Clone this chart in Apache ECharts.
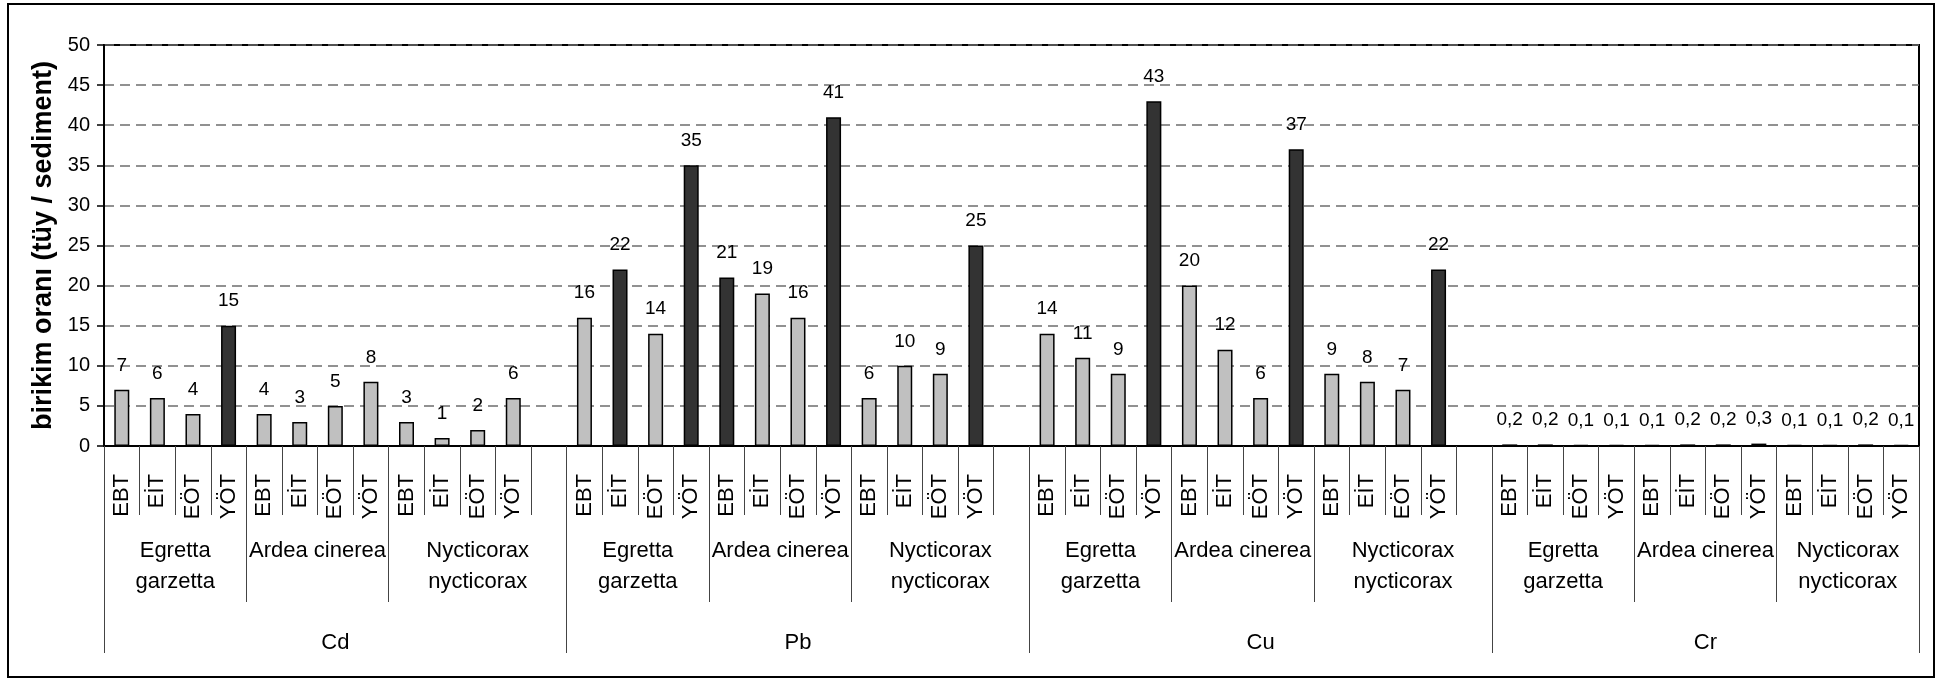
<!DOCTYPE html>
<html>
<head>
<meta charset="utf-8">
<script src="https://cdn.jsdelivr.net/npm/echarts@6/dist/echarts.min.js"></script>
<style>
	html, body { margin: 0; padding: 0; background: #fff; }
	#main { width: 1946px; height: 680px; position: absolute; left: 0; top: 0; }
	#frame { position: absolute; left: 7px; top: 3px; width: 1924px; height: 671px; border: 2px solid #000; pointer-events: none; }
</style>
</head>
<body>
<div id="main"></div>
<div id="frame"></div>
<script>
	// kategoriler
	var metals = ['Cd', 'Pb', 'Cu', 'Cr'];
	var species = ['Egretta\ngarzetta', 'Ardea cinerea', 'Nycticorax\nnycticorax'];
	var tissues = ['EBT', 'EİT', 'EÖT', 'YÖT'];

	// birikim oranı değerleri (her metal: Egretta x4, Ardea x4, Nycticorax x4)
	var cdValues = [7, 6, 4, 15, 4, 3, 5, 8, 3, 1, 2, 6];
	var pbValues = [16, 22, 14, 35, 21, 19, 16, 41, 6, 10, 9, 25];
	var cuValues = [14, 11, 9, 43, 20, 12, 6, 37, 9, 8, 7, 22];
	var crValues = [0.2, 0.2, 0.1, 0.1, 0.1, 0.2, 0.2, 0.3, 0.1, 0.1, 0.2, 0.1];

	// koyu gösterilen sütunlar (metal içindeki sıra)
	var cdMarked = [3];
	var pbMarked = [1, 3, 4, 7, 11];
	var cuMarked = [3, 7, 11];
	var crMarked = [];

	var yTicks = [0, 5, 10, 15, 20, 25, 30, 35, 40, 45, 50];

	var allValues = [cdValues, pbValues, cuValues, crValues];
	var allMarked = [cdMarked, pbMarked, cuMarked, crMarked];

	var categories = [];
	var barData = [];
	var speciesEdges = [0];
	var speciesCenters = [];
	var speciesNames = [];
	var metalEdges = [0];
	var metalCenters = [];

	metals.forEach(function(m, mi) {
		var metalStart = categories.length;
		species.forEach(function(s, si) {
			var start = categories.length;
			tissues.forEach(function(t, ti) {
				var k = si * tissues.length + ti;
				categories.push(t);
				var v = allValues[mi][k];
				var dark = allMarked[mi].indexOf(k) >= 0;
				barData.push({
					value: v,
					itemStyle: { color: dark ? '#333333' : '#c0c0c0' }
				});
			});
			// boş sütun (son metal hariç)
			if (si == species.length - 1 && mi < metals.length - 1) {
				categories.push('');
				barData.push('-');
			}
			speciesCenters.push((start + categories.length) / 2);
			speciesNames.push(s);
			speciesEdges.push(categories.length);
		});
		metalCenters.push((metalStart + categories.length) / 2);
		metalEdges.push(categories.length);
	});

	var n = categories.length;
	var font = '"Liberation Sans", Arial, sans-serif';

	var myChart = echarts.init(document.getElementById('main'));
	var option = {
		backgroundColor: '#fff',
		animation: false,
		textStyle: { fontFamily: font, color: '#000' },
		grid: {
			left: 104,
			right: 27,
			top: 45,
			bottom: 234,
			show: true,
			borderColor: '#000',
			borderWidth: 2,
			outerBoundsMode: 'none'
		},
		yAxis: {
			type: 'value',
			min: yTicks[0],
			max: yTicks[yTicks.length - 1],
			interval: 5,
			name: 'birikim oranı (tüy / sediment)',
			nameLocation: 'middle',
			nameGap: 46,
			nameTextStyle: { fontFamily: font, fontSize: 27, fontWeight: 'bold', color: '#000' },
			axisLine: { show: true, lineStyle: { color: '#000', width: 2 } },
			axisTick: { show: true, length: 7, lineStyle: { color: '#000', width: 1.5 } },
			axisLabel: { fontFamily: font, fontSize: 20, color: '#000', margin: 14 },
			splitLine: { show: true, lineStyle: { color: '#6e6e6e', width: 1.5, type: [10, 6] } }
		},
		xAxis: [{
				type: 'category',
				data: categories,
				position: 'bottom',
				axisLine: { lineStyle: { color: '#000', width: 2 } },
				axisTick: { show: true, interval: 0, length: 69, lineStyle: { color: '#444', width: 1 } },
				axisLabel: { interval: 0, rotate: 90, fontFamily: font, fontSize: 22, color: '#000', margin: 28 },
				splitLine: { show: false }
			},
			{
				type: 'value',
				min: 0,
				max: n,
				position: 'bottom',
				axisLine: { show: false },
				splitLine: { show: false },
				axisTick: { show: true, customValues: speciesEdges, length: 156, lineStyle: { color: '#444', width: 1 } },
				axisLabel: {
					customValues: speciesCenters,
					fontFamily: font,
					fontSize: 22,
					lineHeight: 31,
					color: '#000',
					margin: 89,
					formatter: function(v) {
						var i = speciesCenters.indexOf(v);
						return i >= 0 ? speciesNames[i] : '';
					}
				}
			},
			{
				type: 'value',
				min: 0,
				max: n,
				position: 'bottom',
				axisLine: { show: false },
				splitLine: { show: false },
				axisTick: { show: true, customValues: metalEdges, length: 207, lineStyle: { color: '#444', width: 1 } },
				axisLabel: {
					customValues: metalCenters,
					fontFamily: font,
					fontSize: 22,
					color: '#000',
					margin: 186,
					formatter: function(v) {
						var i = metalCenters.indexOf(v);
						return i >= 0 ? metals[i] : '';
					}
				}
			}
		],
		series: [{
			type: 'bar',
			xAxisIndex: 0,
			yAxisIndex: 0,
			data: barData,
			barWidth: 15,
			itemStyle: { borderColor: '#000', borderWidth: 1.5 },
			label: {
				show: true,
				position: 'top',
				distance: 15,
				fontFamily: font,
				fontSize: 19,
				color: '#000',
				formatter: function(p) {
					var v = p.value;
					if (v < 1) return v.toFixed(1).replace('.', ',');
					return String(Math.round(v));
				}
			}
		}]
	};
	myChart.setOption(option);
</script>
</body>
</html>
